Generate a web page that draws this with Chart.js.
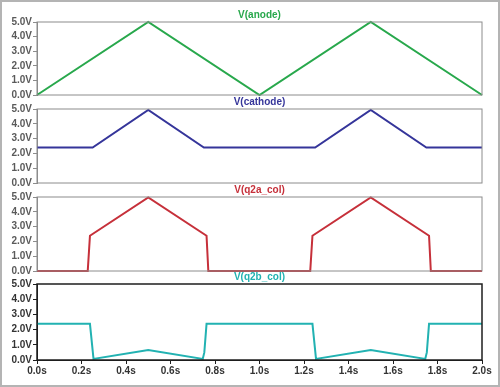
<!DOCTYPE html>
<html>
<head>
<meta charset="utf-8">
<script src="https://cdn.jsdelivr.net/npm/chart.js@4.4.1/dist/chart.umd.min.js"></script>
<style>
html, body { margin: 0; padding: 0; background: #fff; }
#wrap { position: relative; width: 500px; height: 387px; overflow: hidden; }
#wrap canvas { position: absolute; left: 0; top: 0; }
#frame { position: absolute; left: 0; top: 0; width: 500px; height: 387px; box-sizing: border-box; border: 2px solid #b4b4b4; pointer-events: none; }
</style>
</head>
<body>
<div id="wrap">
  <canvas id="p1" width="500" height="387"></canvas>
  <canvas id="p2" width="500" height="387"></canvas>
  <canvas id="p3" width="500" height="387"></canvas>
  <canvas id="p4" width="500" height="387"></canvas>
  <div id="frame"></div>
</div>
<script>
// traces (time in s, voltage in V)
var anodeT = [0, 0.5, 1.0, 1.5, 2.0];
var anodeV = [0, 5.0, 0, 5.0, 0];

var cathodeT = [0, 0.25, 0.5, 0.75, 1.25, 1.5, 1.75, 2.0];
var cathodeV = [2.4, 2.4, 4.93, 2.4, 2.4, 4.93, 2.4, 2.4];

var q2aT = [0, 0.228, 0.238, 0.5, 0.762, 0.77, 1.228, 1.238, 1.5, 1.762, 1.77, 2.0];
var q2aV = [0, 0, 2.38, 4.97, 2.38, 0, 0, 2.38, 4.97, 2.38, 0, 0];

var q2bT = [0, 0.238, 0.254, 0.5, 0.745, 0.752, 0.762, 1.238, 1.254, 1.5, 1.745, 1.752, 1.762, 2.0];
var q2bV = [2.38, 2.38, 0.07, 0.66, 0.07, 0.5, 2.38, 2.38, 0.07, 0.66, 0.07, 0.5, 2.38, 2.38];

var traceNames = ["V(anode)", "V(cathode)", "V(q2a_col)", "V(q2b_col)"];
var traceColors = ["#28a84c", "#35359a", "#c6303a", "#22b2b2"];

function pts(t, v) {
    return t.map(function (x, i) { return { x: x, y: v[i] }; });
}

var boxPlugin = {
    id: "box",
    afterDraw: function (chart, args, opts) {
        var a = chart.chartArea, ctx = chart.ctx;
        ctx.save();
        ctx.strokeStyle = opts.color;
        ctx.lineWidth = opts.width;
        ctx.strokeRect(a.left, a.top, a.right - a.left, a.bottom - a.top);
        ctx.font = "bold 10px 'Liberation Sans', Arial, sans-serif";
        ctx.fillStyle = opts.titleColor;
        ctx.textAlign = "center";
        ctx.textBaseline = "middle";
        ctx.fillText(opts.title, (a.left + a.right) / 2, a.top - 7);
        ctx.restore();
    }
};

var panels = [
    { id: "p1", top: 22, bottom: 95, t: anodeT, v: anodeV },
    { id: "p2", top: 109, bottom: 183, t: cathodeT, v: cathodeV },
    { id: "p3", top: 197, bottom: 271, t: q2aT, v: q2aV },
    { id: "p4", top: 284, bottom: 360, t: q2bT, v: q2bV }
];

panels.forEach(function (p, i) {
    var last = i == panels.length - 1;
    var frameCol = last ? "#1e1e1e" : "#8c8c8c";
    var labelCol = last ? "#333" : "#5a5a5a";
    var xScale = {
        type: "linear",
        min: 0,
        max: 2,
        display: last,
        border: { display: true, color: frameCol },
        grid: { drawOnChartArea: false, drawTicks: true, tickLength: 4, color: frameCol },
        ticks: {
            stepSize: 0.2,
            autoSkip: false,
            padding: 1,
            maxRotation: 0,
            color: labelCol,
            font: { family: "'Liberation Sans', Arial, sans-serif", size: 10, weight: "bold" },
            callback: function (val) { return val.toFixed(1) + "s"; }
        }
    };
    if (last) xScale.afterFit = function (s) { s.height = 20; };

    new Chart(document.getElementById(p.id).getContext("2d"), {
        type: "line",
        data: {
            datasets: [{
                data: pts(p.t, p.v),
                borderColor: traceColors[i],
                borderWidth: 2,
                pointRadius: 0,
                tension: 0,
                clip: 4
            }]
        },
        options: {
            responsive: false,
            animation: false,
            devicePixelRatio: 1,
            layout: {
                padding: { left: 0, right: 18, top: p.top, bottom: last ? 387 - p.bottom - 20 : 387 - p.bottom }
            },
            plugins: {
                legend: { display: false },
                tooltip: { enabled: false },
                box: { color: frameCol, width: last ? 1.5 : 1, title: traceNames[i], titleColor: traceColors[i] }
            },
            scales: {
                x: xScale,
                y: {
                    min: 0,
                    max: 5,
                    afterFit: function (s) { s.width = 37; },
                    border: { display: true, color: frameCol },
                    grid: { drawOnChartArea: false, drawTicks: true, tickLength: 4, color: frameCol },
                    ticks: {
                        stepSize: 1,
                        autoSkip: false,
                        padding: 1,
                        color: labelCol,
                        font: { family: "'Liberation Sans', Arial, sans-serif", size: 10, weight: "bold" },
                        callback: function (val) { return val.toFixed(1) + "V"; }
                    }
                }
            }
        },
        plugins: [boxPlugin]
    });
});
</script>
</body>
</html>
